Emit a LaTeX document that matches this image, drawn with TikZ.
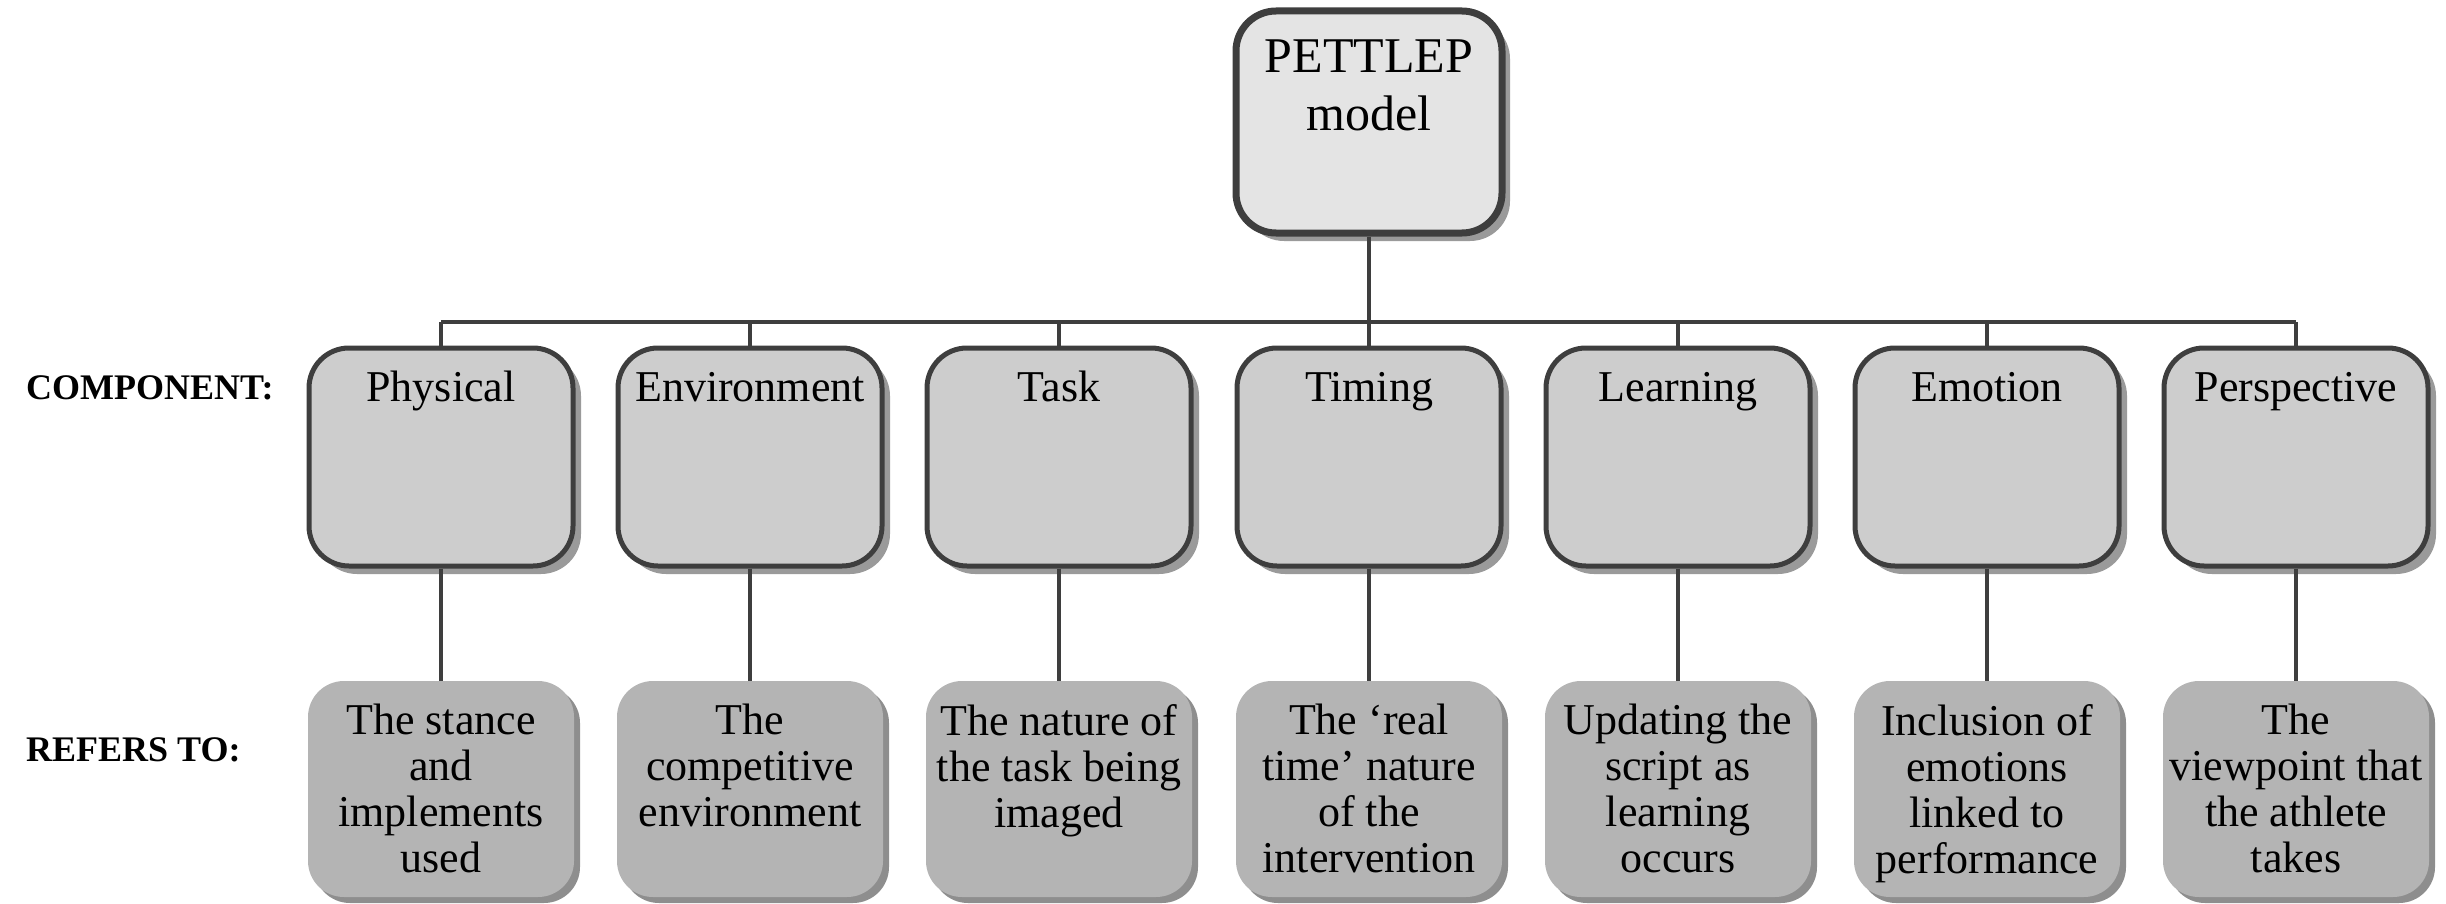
\documentclass[tikz,border=0pt]{standalone}
\usepackage{fontspec}
\setmainfont{Liberation Serif}
\usetikzlibrary{shadows}
\definecolor{edgegray}{HTML}{3E3E3E}
\definecolor{topfill}{HTML}{E4E4E4}
\definecolor{compfill}{HTML}{CDCDCD}
\definecolor{reffill}{HTML}{B4B4B4}
\definecolor{shadowgray}{HTML}{9A9A9A}
\definecolor{refshadow}{HTML}{8E8E8E}
\begin{document}
\begin{tikzpicture}[x=1pt,y=-1pt,
  topbox/.style={draw=edgegray, line width=7pt, fill=topfill, rounded corners=40pt,
    minimum width=266pt, minimum height=222pt, inner sep=0pt,
    drop shadow={shadow xshift=8pt, shadow yshift=-8pt, fill=shadowgray, opacity=1}},
  compbox/.style={draw=edgegray, line width=5pt, fill=compfill, rounded corners=40pt,
    minimum width=264pt, minimum height=218pt, inner sep=0pt,
    drop shadow={shadow xshift=8pt, shadow yshift=-8pt, fill=shadowgray, opacity=1}},
  refbox/.style={fill=reffill, rounded corners=36pt,
    minimum width=266pt, minimum height=216pt, inner sep=0pt,
    drop shadow={shadow xshift=6pt, shadow yshift=-6pt, fill=refshadow, opacity=1}},
  toptext/.style={anchor=north, align=center, inner sep=0pt, font=\fontsize{50}{58}\selectfont},
  comptext/.style={anchor=base, inner sep=0pt, font=\fontsize{44}{50}\selectfont},
  reftext/.style={anchor=north, align=center, inner sep=0pt, font=\fontsize{44}{46}\selectfont},
  rowlabel/.style={anchor=west, inner sep=0pt, font=\fontsize{36}{40}\selectfont\bfseries},
  conn/.style={draw=edgegray, line width=4.5pt}
]
\useasboundingbox (0,0) rectangle (2446,904);

% top node
\node[topbox] (top) at (1369,122) {};
\node[toptext] (toptxt) at (1369,40) {PETTLEP\\model};

% row labels
\node[rowlabel] (lcomp) at (26,388) {COMPONENT:};
\node[rowlabel] (lref) at (26,750) {REFERS TO:};

% component boxes
\node[compbox] (c1) at (441,457) {};
\node[compbox] (c2) at (750,457) {};
\node[compbox] (c3) at (1059,457) {};
\node[compbox] (c4) at (1369,457) {};
\node[compbox] (c5) at (1678,457) {};
\node[compbox] (c6) at (1987,457) {};
\node[compbox] (c7) at (2296,457) {};

\node[comptext] (t1) at (441,401) {Physical};
\node[comptext] (t2) at (750,401) {Environment};
\node[comptext] (t3) at (1059,401) {Task};
\node[comptext] (t4) at (1369,401) {Timing};
\node[comptext] (t5) at (1678,401) {Learning};
\node[comptext] (t6) at (1987,401) {Emotion};
\node[comptext] (t7) at (2296,401) {Perspective};

% refers-to boxes
\node[refbox] (r1) at (441,789) {};
\node[refbox] (r2) at (750,789) {};
\node[refbox] (r3) at (1059,789) {};
\node[refbox] (r4) at (1369,789) {};
\node[refbox] (r5) at (1678,789) {};
\node[refbox] (r6) at (1987,789) {};
\node[refbox] (r7) at (2296,789) {};

\node[reftext] (s1) at (441,704) {The stance\\and\\implements\\used};
\node[reftext] (s2) at (750,704) {The\\competitive\\environment};
\node[reftext] (s3) at (1059,704) {The nature of\\the task being\\imaged};
\node[reftext] (s4) at (1369,704) {The ‘real\\time’ nature\\of the\\intervention};
\node[reftext] (s5) at (1678,704) {Updating the\\script as\\learning\\occurs};
\node[reftext] (s6) at (1987,704) {Inclusion of\\emotions\\linked to\\performance};
\node[reftext] (s7) at (2296,704) {The\\viewpoint that\\the athlete\\takes};

% connectors
\coordinate (busL) at (441,322);
\coordinate (busR) at (2296,322);
\draw[conn] (busL) -- (busR);
\draw[conn] (top.south) -- (top.south |- busL);
\foreach \i in {1,...,7}{
  \draw[conn] (c\i.north) -- (c\i.north |- busL);
  \draw[conn] (c\i.south) -- (r\i.north);
}
\end{tikzpicture}
\end{document}
